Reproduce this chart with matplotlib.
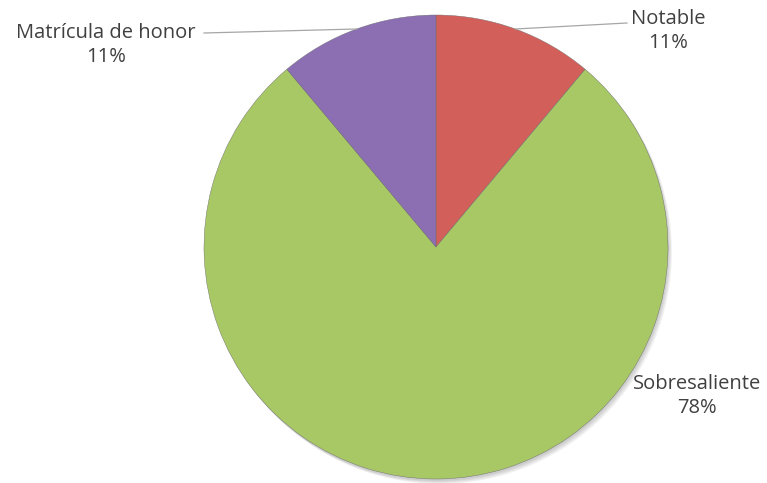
import numpy as np
import matplotlib.pyplot as plt
from matplotlib.patches import Circle

# Data
labels = ['Notable', 'Sobresaliente', 'Matrícula de honor']
counts = [1, 7, 1]
colors = ['#D35F5B', '#A8C866', '#8C6EB3']

plt.rcParams['font.family'] = ['Open Sans', 'DejaVu Sans']

fig = plt.figure(figsize=(7.67, 4.83), dpi=100)
ax = fig.add_axes([0, 0, 1, 1])

cx, cy, r = 436, 236, 232

# soft shadow
for i in range(4):
    ax.add_patch(Circle((cx + 1 + i, cy - 2 - i), r, color='black', alpha=0.05, lw=0, zorder=0))

wedges, _ = ax.pie(counts, colors=colors, startangle=90, counterclock=False,
                   center=(cx, cy), radius=r, frame=True,
                   wedgeprops=dict(edgecolor='#6b6b6b', linewidth=0.3))
ax.set_xlim(0, 767)
ax.set_ylim(0, 483)
ax.set_aspect('equal')
ax.axis('off')

total = sum(counts)
pcts = [f'{round(100 * c / total)}%' for c in counts]
txt_color = '#404040'
fs = 14.5

# label positions (text centers, pixels from top-left)
label_pos = {'Notable': (668, 31), 'Sobresaliente': (697, 396), 'Matrícula de honor': (106, 45)}
line_start = {'Notable': (627, 23), 'Matrícula de honor': (204, 33)}

for w, lab, p in zip(wedges, labels, pcts):
    x, y = label_pos[lab]
    ax.text(x, 483 - y, f'{lab}\n{p}', ha='center', va='center', fontsize=fs,
            color=txt_color, linespacing=1.3)
    if lab in line_start:
        ang = np.deg2rad((w.theta1 + w.theta2) / 2)
        ex, ey = cx + r * np.cos(ang), cy + r * np.sin(ang)
        sx, sy = line_start[lab]
        ax.plot([sx, ex], [483 - sy, ey], color='#a6a6a6', lw=0.9, zorder=3)

fig.savefig('out.png', dpi=100)
